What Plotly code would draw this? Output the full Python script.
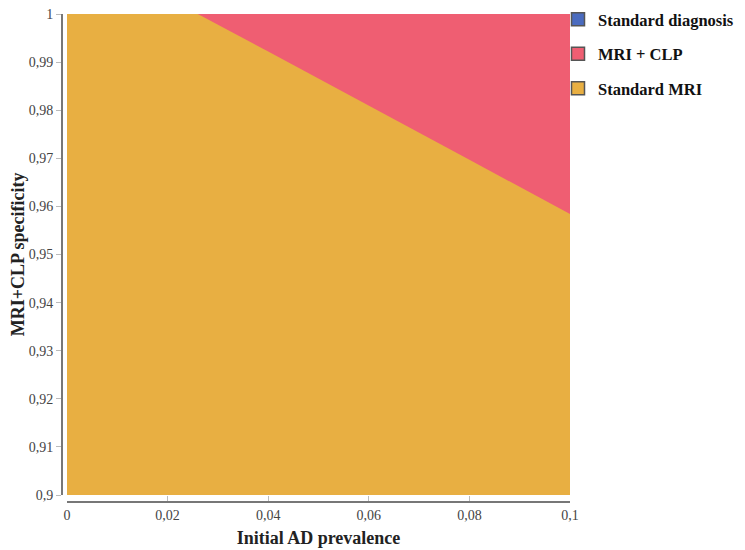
import plotly.graph_objects as go

# Data
prevalence = [0.0, 0.026, 0.04, 0.06, 0.08, 0.1]
boundary_spec = [1.0, 1.0, 0.9922, 0.981, 0.9697, 0.9584]
top_spec = [1.0, 1.0, 1.0, 1.0, 1.0, 1.0]
x_ticks = [0, 0.02, 0.04, 0.06, 0.08, 0.1]
x_tick_labels = ["0", "0,02", "0,04", "0,06", "0,08", "0,1"]
y_ticks = [0.9, 0.91, 0.92, 0.93, 0.94, 0.95, 0.96, 0.97, 0.98, 0.99, 1.0]
y_tick_labels = ["0,9", "0,91", "0,92", "0,93", "0,94", "0,95", "0,96", "0,97", "0,98", "0,99", "1"]
series_names = ["Standard diagnosis", "MRI + CLP", "Standard MRI"]
series_colors = ["#4A6BBF", "#EF5E72", "#E8AF42"]

FONT = "Liberation Serif"

fig = go.Figure()

# Red region (MRI + CLP) - fills whole plot, then orange drawn on top
fig.add_trace(go.Scatter(x=prevalence, y=top_spec, mode="lines", line=dict(width=0),
                         fill="tozeroy", fillcolor=series_colors[1], showlegend=False,
                         hoverinfo="skip"))
# Orange region (Standard MRI)
fig.add_trace(go.Scatter(x=prevalence, y=boundary_spec, mode="lines", line=dict(width=0),
                         fill="tozeroy", fillcolor=series_colors[2], showlegend=False,
                         hoverinfo="skip"))

# Legend entries
for i, (name, col) in enumerate(zip(series_names, series_colors)):
    fig.add_trace(go.Scatter(x=[None], y=[None], mode="markers", name=name,
                             legendgroup=f"g{i}",
                             marker=dict(symbol="square", size=13, color=col,
                                         line=dict(color="#555555", width=1.5))))

# page body adds an 8px offset, so figure coords = screen coords - 8
L, R, T, B = 54, 183, 6, 56
pw = 745 - L - R
ph = 550 - T - B

fig.update_layout(
    width=745, height=550,
    margin=dict(l=L, r=R, t=T, b=B, autoexpand=False),
    paper_bgcolor="white", plot_bgcolor="white",
    font=dict(family=FONT, color="#333333", size=12),
    showlegend=True,
    legend=dict(x=(550 - L) / pw, xanchor="left", y=1 + 12 / ph, yanchor="top",
                font=dict(family=FONT, size=16.5, color="#111111", weight="bold"),
                traceorder="grouped", tracegroupgap=10,
                bgcolor="rgba(0,0,0,0)"),
    xaxis=dict(range=[0, 0.1], domain=[5 / pw, 1], anchor="free", position=0,
               automargin=False, ticklabeloverflow="allow",
               tickvals=x_ticks, ticktext=x_tick_labels,
               showgrid=False, zeroline=False,
               showline=True, linecolor="#777777", linewidth=2,
               ticks="inside", ticklen=5, tickcolor="#bbbbbb",
               tickfont=dict(family=FONT, size=14, color="#444444"),
               title=dict(text="Initial AD prevalence", standoff=9,
                          font=dict(family=FONT, size=18, color="#222222", weight="bold"))),
    yaxis=dict(range=[0.9, 1.0], domain=[7 / ph, 1], anchor="free", position=0,
               automargin=False, ticklabeloverflow="allow",
               tickvals=y_ticks, ticktext=y_tick_labels,
               showgrid=False, zeroline=False,
               showline=True, linecolor="#777777", linewidth=2,
               ticks="outside", ticklen=5, tickcolor="#bbbbbb",
               tickfont=dict(family=FONT, size=14, color="#444444"),
               title=dict(text="MRI+CLP specificity", standoff=6,
                          font=dict(family=FONT, size=18, color="#222222", weight="bold"))),
)

fig.write_html("out.html")
